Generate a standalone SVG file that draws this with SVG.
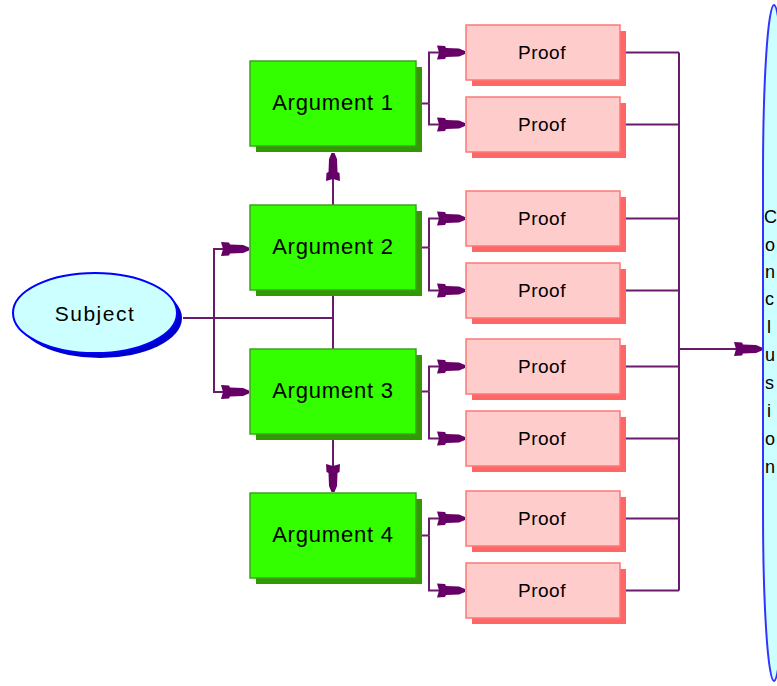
<svg xmlns="http://www.w3.org/2000/svg" width="777" height="686" viewBox="0 0 777 686">
<style>
.arg{fill:#33FF00;stroke:#44A020;stroke-width:1.5}
.argsh{fill:#339900}
.prf{fill:#FFCCCC;stroke:#FF7777;stroke-width:1.5}
.prfsh{fill:#FF6666}
.lbl{font-family:"Liberation Sans",Arial,sans-serif;fill:#000;text-anchor:middle}
.conn{fill:none;stroke:#6A1A6A;stroke-width:2}
</style>
<defs>
<marker id="ah" markerUnits="userSpaceOnUse" markerWidth="32" markerHeight="18" viewBox="-30 -9 32 18" refX="0" refY="0" orient="auto">
<path d="M-28,-7 L-20,-6.5 L-19,-4.5 L-6,-4 L0,-1.5 L0,1.5 L-6,4 L-19,4.5 L-20,6.5 L-28,7 L-26,0 Z" fill="#660066"/>
</marker>
</defs>
<rect width="777" height="686" fill="#FFFFFF"/>

<g id="connectors">
<path class="conn" d="M183,318 H333 M333,290 V349"/>
<path class="conn" d="M214,318 V249 H249" marker-end="url(#ah)"/>
<path class="conn" d="M214,318 V392 H249" marker-end="url(#ah)"/>
<path class="conn" d="M333,205 V153" marker-end="url(#ah)"/>
<path class="conn" d="M333,440 V492" marker-end="url(#ah)"/>
<path class="conn" d="M416,103.5 H429"/>
<path class="conn" d="M429,103.5 V52.5 H465" marker-end="url(#ah)"/>
<path class="conn" d="M429,103.5 V124.5 H465" marker-end="url(#ah)"/>
<path class="conn" d="M416,247.5 H429"/>
<path class="conn" d="M429,247.5 V218.5 H465" marker-end="url(#ah)"/>
<path class="conn" d="M429,247.5 V290.5 H465" marker-end="url(#ah)"/>
<path class="conn" d="M416,391.5 H429"/>
<path class="conn" d="M429,391.5 V366.5 H465" marker-end="url(#ah)"/>
<path class="conn" d="M429,391.5 V438.5 H465" marker-end="url(#ah)"/>
<path class="conn" d="M416,535.5 H429"/>
<path class="conn" d="M429,535.5 V518.5 H465" marker-end="url(#ah)"/>
<path class="conn" d="M429,535.5 V590.5 H465" marker-end="url(#ah)"/>
<path class="conn" d="M626,52.5 H679 M626,124.5 H679 M626,218.5 H679 M626,290.5 H679 M626,366.5 H679 M626,438.5 H679 M626,518.5 H679 M626,590.5 H679 M679,52.5 V590.5"/>
<path class="conn" d="M679,349 H762" marker-end="url(#ah)"/>
</g>

<g id="subject">
<ellipse cx="100" cy="318" rx="82" ry="40" fill="#0000CC"/>
<ellipse cx="95" cy="313" rx="82" ry="40" fill="#CCFFFF" stroke="#0000FF" stroke-width="2"/>
<text class="lbl" x="95" y="321" font-size="21" letter-spacing="1.5">Subject</text>
</g>

<g id="argument1">
<rect class="argsh" x="256" y="67" width="166" height="85"/>
<rect class="arg" x="250" y="61" width="166" height="85"/>
<text class="lbl" x="333" y="110" font-size="22" letter-spacing="0.8">Argument 1</text>
</g>
<g id="argument2">
<rect class="argsh" x="256" y="211" width="166" height="85"/>
<rect class="arg" x="250" y="205" width="166" height="85"/>
<text class="lbl" x="333" y="254" font-size="22" letter-spacing="0.8">Argument 2</text>
</g>
<g id="argument3">
<rect class="argsh" x="256" y="355" width="166" height="85"/>
<rect class="arg" x="250" y="349" width="166" height="85"/>
<text class="lbl" x="333" y="398" font-size="22" letter-spacing="0.8">Argument 3</text>
</g>
<g id="argument4">
<rect class="argsh" x="256" y="499" width="166" height="85"/>
<rect class="arg" x="250" y="493" width="166" height="85"/>
<text class="lbl" x="333" y="542" font-size="22" letter-spacing="0.8">Argument 4</text>
</g>

<g id="proof1"><rect class="prfsh" x="472" y="31" width="154" height="55"/><rect class="prf" x="466" y="25" width="154" height="55"/><text class="lbl" x="542" y="59" font-size="19" letter-spacing="0.5">Proof</text></g>
<g id="proof2"><rect class="prfsh" x="472" y="103" width="154" height="55"/><rect class="prf" x="466" y="97" width="154" height="55"/><text class="lbl" x="542" y="131" font-size="19" letter-spacing="0.5">Proof</text></g>
<g id="proof3"><rect class="prfsh" x="472" y="197" width="154" height="55"/><rect class="prf" x="466" y="191" width="154" height="55"/><text class="lbl" x="542" y="225" font-size="19" letter-spacing="0.5">Proof</text></g>
<g id="proof4"><rect class="prfsh" x="472" y="269" width="154" height="55"/><rect class="prf" x="466" y="263" width="154" height="55"/><text class="lbl" x="542" y="297" font-size="19" letter-spacing="0.5">Proof</text></g>
<g id="proof5"><rect class="prfsh" x="472" y="345" width="154" height="55"/><rect class="prf" x="466" y="339" width="154" height="55"/><text class="lbl" x="542" y="373" font-size="19" letter-spacing="0.5">Proof</text></g>
<g id="proof6"><rect class="prfsh" x="472" y="417" width="154" height="55"/><rect class="prf" x="466" y="411" width="154" height="55"/><text class="lbl" x="542" y="445" font-size="19" letter-spacing="0.5">Proof</text></g>
<g id="proof7"><rect class="prfsh" x="472" y="497" width="154" height="55"/><rect class="prf" x="466" y="491" width="154" height="55"/><text class="lbl" x="542" y="525" font-size="19" letter-spacing="0.5">Proof</text></g>
<g id="proof8"><rect class="prfsh" x="472" y="569" width="154" height="55"/><rect class="prf" x="466" y="563" width="154" height="55"/><text class="lbl" x="542" y="597" font-size="19" letter-spacing="0.5">Proof</text></g>

<g id="conclusion">
<rect x="763" y="5" width="22" height="676" rx="11" ry="170" fill="#CCFFFF" stroke="#3333FF" stroke-width="2"/>
<g font-family="&quot;Liberation Sans&quot;,Arial,sans-serif" font-size="18" fill="#000">
<text x="764" y="223">C</text>
<text x="765" y="251">o</text>
<text x="765" y="278">n</text>
<text x="765" y="305">c</text>
<text x="767" y="333">l</text>
<text x="765" y="361">u</text>
<text x="765" y="389">s</text>
<text x="767" y="417">i</text>
<text x="765" y="445">o</text>
<text x="765" y="473">n</text>
</g>
</g>
</svg>
